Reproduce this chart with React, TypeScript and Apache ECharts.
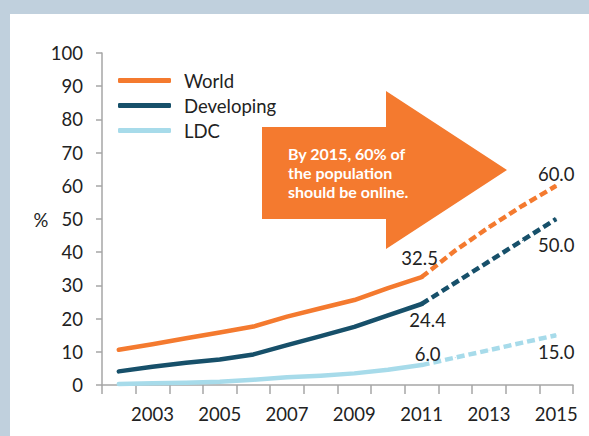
import React, { useEffect, useRef } from "react";
import * as echarts from "echarts";

const years = ["2002","2003","2004","2005","2006","2007","2008","2009","2010","2011","2012","2013","2014","2015"];
const worldActual = [10.6, 12.3, 14.1, 15.8, 17.6, 20.6, 23.1, 25.6, 29.2, 32.5];
const developingActual = [4.1, 5.5, 6.7, 7.7, 9.2, 12.0, 14.7, 17.5, 21.0, 24.4];
const ldcActual = [0.3, 0.5, 0.7, 1.0, 1.6, 2.3, 2.8, 3.5, 4.6, 6.0];
const worldProjected = [32.5, 40.5, 47.5, 54.0, 60.0];
const developingProjected = [24.4, 30.8, 37.2, 43.6, 50.0];
const ldcProjected = [6.0, 8.25, 10.5, 12.75, 15.0];
const yTicks = { min: 0, max: 100, interval: 10 };
const seriesNames = ["World", "Developing", "LDC"];
const calloutText = "By 2015, 60% of\nthe population\nshould be online.";

const COLORS = ["#f47a2f", "#17506a", "#a7dbea"];
const FONT = "Lato, 'Noto Sans', sans-serif";
const FS = 18.5;
const TXT = "#222222";

type LabelSpec = { position: "top" | "bottom"; distance: number; offset?: [number, number] };

function makeLabel(lbl: LabelSpec) {
  return {
    show: true,
    position: lbl.position,
    distance: lbl.distance,
    offset: lbl.offset || [0, 0],
    formatter: (p: any) => Number(p.value).toFixed(1),
    fontSize: FS,
    fontFamily: FONT,
    color: TXT,
  };
}

function buildActual(vals: number[], lbl: LabelSpec) {
  const out: any[] = years.map(() => null);
  vals.forEach((v, i) => {
    out[i] = v;
  });
  const last = vals.length - 1;
  out[last] = { value: vals[last], label: makeLabel(lbl) };
  return out;
}

function buildProjected(vals: number[], lbl: LabelSpec) {
  const out: any[] = years.map(() => null);
  const start = years.length - vals.length;
  vals.forEach((v, i) => {
    out[start + i] = v;
  });
  const lastIdx = years.length - 1;
  out[lastIdx] = { value: vals[vals.length - 1], label: makeLabel(lbl) };
  return out;
}

export default function App() {
  const ref = useRef<HTMLDivElement>(null);
  useEffect(() => {
    if (!ref.current) return;
    const chart = echarts.init(ref.current, null, { renderer: "svg" });
    const actuals = [worldActual, developingActual, ldcActual];
    const projs = [worldProjected, developingProjected, ldcProjected];
    const actualLabels: LabelSpec[] = [
      { position: "top", distance: 9, offset: [-2, 0] },
      { position: "bottom", distance: 6, offset: [6, 0] },
      { position: "top", distance: 1, offset: [6, 0] },
    ];
    const projLabels: LabelSpec[] = [
      { position: "top", distance: 2 },
      { position: "bottom", distance: 16 },
      { position: "bottom", distance: 7 },
    ];
    const series: any[] = [];
    seriesNames.forEach((name, k) => {
      series.push({
        name,
        type: "line",
        data: buildActual(actuals[k], actualLabels[k]),
        symbol: "circle",
        symbolSize: 1,
        showSymbol: true,
        itemStyle: { color: COLORS[k] },
        lineStyle: { color: COLORS[k], width: 4.5, cap: "round", join: "round" },
        z: 5 - k,
        connectNulls: false,
      });
      series.push({
        name: name + " (projected)",
        type: "line",
        data: buildProjected(projs[k], projLabels[k]),
        symbol: "circle",
        symbolSize: 1,
        showSymbol: true,
        itemStyle: { color: COLORS[k] },
        lineStyle: { color: COLORS[k], width: 4.5, type: [8, 4], cap: "butt" },
        z: 5 - k,
        connectNulls: false,
      });
    });

    chart.setOption({
      animation: false,
      backgroundColor: "transparent",
      grid: { left: 102, right: 16, top: 53, bottom: 51, containLabel: false },
      legend: {
        data: seriesNames,
        orient: "vertical",
        left: 113,
        top: 65,
        icon: "roundRect",
        itemWidth: 53,
        itemHeight: 5,
        itemGap: 4,
        textStyle: {
          fontSize: FS,
          fontFamily: FONT,
          color: TXT,
          lineHeight: 21,
          padding: [0, 0, 0, 8],
        },
      },
      xAxis: {
        type: "category",
        data: years,
        boundaryGap: true,
        axisLine: { show: true, lineStyle: { color: "#a6a6a6", width: 1.5 } },
        axisTick: { show: true, interval: 0, length: 9, lineStyle: { color: "#a6a6a6", width: 1.5 } },
        axisLabel: {
          interval: (i: number) => i % 2 === 1,
          fontSize: FS,
          fontFamily: FONT,
          color: TXT,
          margin: 19,
        },
        splitLine: { show: false },
      },
      yAxis: {
        type: "value",
        min: yTicks.min,
        max: yTicks.max,
        interval: yTicks.interval,
        axisLine: { show: true, lineStyle: { color: "#a6a6a6", width: 1.5 } },
        axisTick: { show: true, length: 6, lineStyle: { color: "#a6a6a6", width: 1.5 } },
        axisLabel: { fontSize: FS, fontFamily: FONT, color: TXT, margin: 19 },
        splitLine: { show: false },
      },
      graphic: [
        {
          type: "rect",
          shape: { x: 0, y: 0, width: 589, height: 14 },
          style: { fill: "#c0d0dd" },
          z: -10,
          silent: true,
        },
        {
          type: "rect",
          shape: { x: 0, y: 0, width: 10, height: 436 },
          style: { fill: "#c0d0dd" },
          z: -10,
          silent: true,
        },
        {
          type: "text",
          x: 41,
          y: 220,
          style: {
            text: "%",
            fontSize: FS,
            fontFamily: FONT,
            fill: TXT,
            textAlign: "center",
            textVerticalAlign: "middle",
          },
        },
        {
          type: "polygon",
          shape: {
            points: [
              [262, 127],
              [386, 127],
              [386, 91],
              [507, 170],
              [386, 249],
              [386, 219],
              [262, 219],
            ],
          },
          style: { fill: "#f47a2f" },
          z: 1,
        },
        {
          type: "text",
          x: 288,
          y: 144,
          z: 2,
          style: {
            text: calloutText,
            fontSize: 16,
            fontWeight: "bold",
            fontFamily: FONT,
            fill: "#ffffff",
            lineHeight: 19,
            textAlign: "left",
            textVerticalAlign: "top",
          },
        },
      ],
      series,
    });
    return () => chart.dispose();
  }, []);
  return (
    <div
      ref={ref}
      style={{ position: "fixed", left: 0, top: 0, width: 589, height: 436, background: "#ffffff" }}
    />
  );
}
